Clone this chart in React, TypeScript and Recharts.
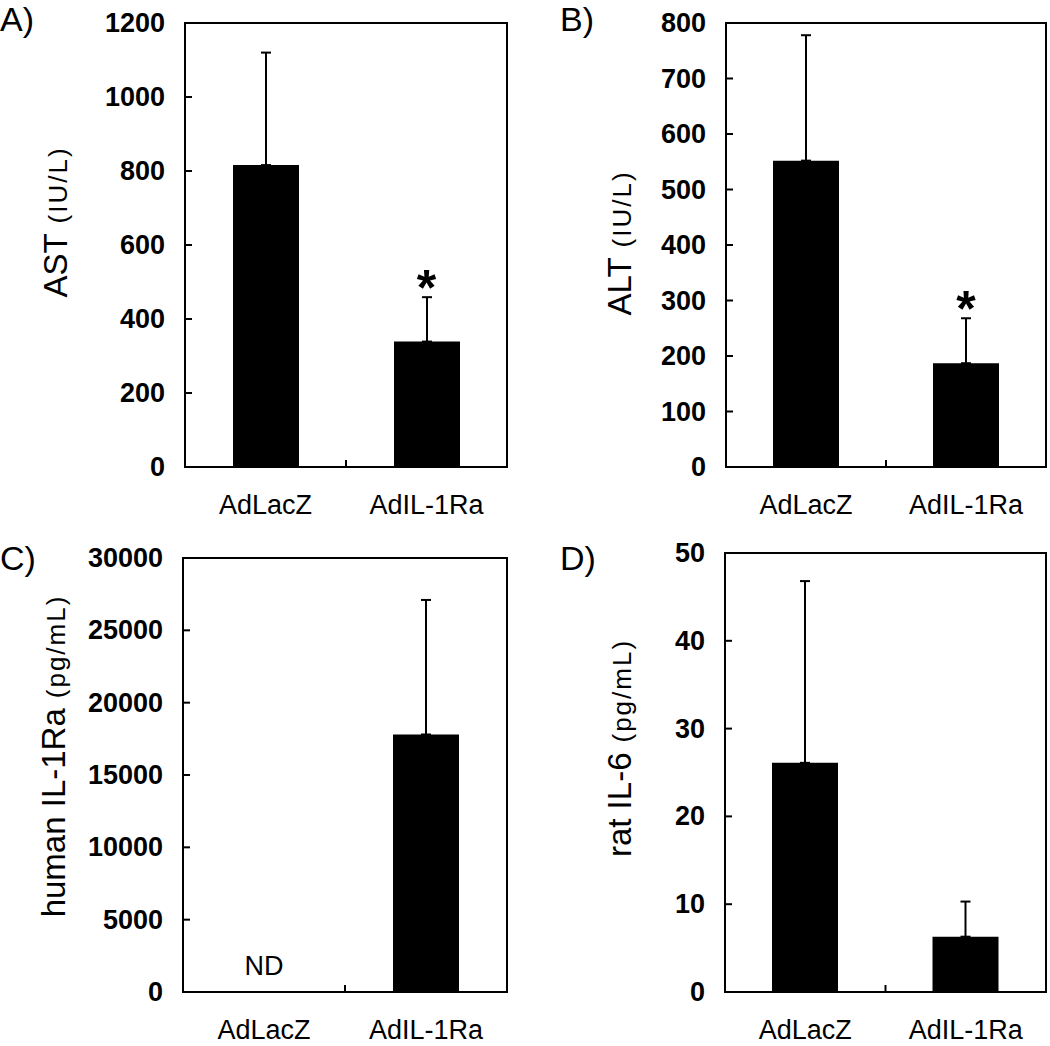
import React from 'react';
import {
  ComposedChart,
  Bar,
  XAxis,
  YAxis,
  ErrorBar,
  ReferenceArea,
  Scatter,
} from 'recharts';

const FONT = '"Liberation Sans", Arial, Helvetica, sans-serif';

// ---------- data ----------
const groups = ['AdLacZ', 'AdIL-1Ra'];

// A) AST (IU/L)
const astMean = [816, 339];
const astSD = [304, 120];
const astSig = [false, true];
const astTicks = [0, 200, 400, 600, 800, 1000, 1200];

// B) ALT (IU/L)
const altMean = [552, 187];
const altSD = [226, 81];
const altSig = [false, true];
const altTicks = [0, 100, 200, 300, 400, 500, 600, 700, 800];

// C) human IL-1Ra (pg/mL)
const il1raMean = [0, 17800];
const il1raSD = [0, 9300];
const il1raNotes = ['ND', ''];
const il1raTicks = [0, 5000, 10000, 15000, 20000, 25000, 30000];

// D) rat IL-6 (pg/mL)
const il6Mean = [26.1, 6.3];
const il6SD = [20.7, 4.0];
const il6Ticks = [0, 10, 20, 30, 40, 50];

type Row = {
  group: string;
  mean: number;
  err: [number, number];
  star: number | null;
  note: string;
  noteAt: number | null;
};

function buildRows(mean: number[], sd: number[], sig?: boolean[], notes?: string[]): Row[] {
  return groups.map((g, i) => ({
    group: g,
    mean: mean[i],
    err: [0, sd[i]],
    star: sig && sig[i] ? mean[i] + sd[i] : null,
    note: notes ? notes[i] : '',
    noteAt: notes && notes[i] ? mean[i] : null,
  }));
}

// ---------- tick renderers ----------
const Y_MARGIN = 20;
const X_MARGIN = 28;

const YTick = (props: any) => {
  const { x, y, payload } = props;
  return (
    <g>
      <line x1={x + Y_MARGIN} x2={x + Y_MARGIN + 7} y1={y} y2={y} stroke="#000" strokeWidth={2} />
      <text
        x={x}
        y={y}
        textAnchor="end"
        dominantBaseline="central"
        fontFamily={FONT}
        fontWeight="bold"
        fontSize={27}
        fill="#000"
      >
        {payload.value}
      </text>
    </g>
  );
};

const CatTick = (props: any) => {
  const { x, y, payload, index } = props;
  const off = payload && typeof payload.offset === 'number' ? payload.offset : 0;
  const axisY = y - X_MARGIN;
  return (
    <g>
      {index === 0 && off > 0 ? (
        <line x1={x + off} x2={x + off} y1={axisY} y2={axisY - 7} stroke="#000" strokeWidth={2} />
      ) : null}
      <text x={x} y={y} dy="0.72em" textAnchor="middle" fontFamily={FONT} fontSize={27} fill="#000">
        {payload.value}
      </text>
    </g>
  );
};

const StarShape = (props: any) => {
  const { cx, cy, payload } = props;
  if (!payload || payload.star == null || cx == null || cy == null) return <g />;
  return (
    <text x={cx} y={cy + 8} textAnchor="middle" fontFamily={FONT} fontWeight="bold" fontSize={50} fill="#000">
      *
    </text>
  );
};

const NoteShape = (props: any) => {
  const { cx, cy, payload } = props;
  if (!payload || !payload.note || cx == null || cy == null) return <g />;
  return (
    <text x={cx} y={cy - 17} textAnchor="middle" fontFamily={FONT} fontSize={27} fill="#000">
      {payload.note}
    </text>
  );
};

// ---------- panel ----------
type PanelProps = {
  letter: string;
  letterX: number;
  letterY: number;
  rows: Row[];
  ticks: number[];
  mainLabel: string;
  unitLabel: string;
  unitSize: number;
  unitSpacing: number;
  labelX: number;
  labelCY: number;
  left: number;
  top: number;
  width: number;
  height: number;
  plotLeft: number;
  plotRight: number;
  plotTop: number;
  plotBottom: number;
};

const X_AXIS_H = 50;

function Panel(p: PanelProps) {
  const max = p.ticks[p.ticks.length - 1];
  const labelContent = () => (
    <g>
      <text x={p.letterX} y={p.letterY} fontFamily={FONT} fontSize={34} fill="#000">
        {p.letter}
      </text>
      <text
        transform={`translate(${p.labelX},${p.labelCY}) rotate(-90)`}
        textAnchor="middle"
        fontFamily={FONT}
        fill="#000"
      >
        <tspan fontSize={33}>{p.mainLabel}</tspan>
        <tspan fontSize={p.unitSize} letterSpacing={p.unitSpacing} dx={10}>
          {p.unitLabel}
        </tspan>
      </text>
    </g>
  );
  return (
    <div style={{ position: 'absolute', left: p.left, top: p.top, width: p.width, height: p.height }}>
      <ComposedChart
        width={p.width}
        height={p.height}
        data={p.rows}
        barSize={66}
        margin={{
          top: p.plotTop,
          right: p.width - p.plotRight,
          bottom: p.height - p.plotBottom - X_AXIS_H,
          left: 0,
        }}
      >
        <XAxis
          xAxisId="cat"
          dataKey="group"
          type="category"
          height={X_AXIS_H}
          axisLine={{ stroke: '#000', strokeWidth: 2 }}
          tickLine={false}
          tickSize={0}
          tickMargin={X_MARGIN}
          interval={0}
          tick={<CatTick />}
        />
        <YAxis
          type="number"
          domain={[0, max]}
          ticks={p.ticks}
          interval={0}
          width={p.plotLeft}
          axisLine={{ stroke: '#000', strokeWidth: 2 }}
          tickLine={false}
          tickSize={0}
          tickMargin={Y_MARGIN}
          tick={<YTick />}
          label={{ content: labelContent }}
        />
        <ReferenceArea
          xAxisId="cat"
          y1={0}
          y2={max}
          fill="none"
          fillOpacity={0}
          stroke="#000"
          strokeWidth={2}
          ifOverflow="visible"
        />
        <Bar xAxisId="cat" dataKey="mean" fill="#000" isAnimationActive={false}>
          <ErrorBar dataKey="err" direction="y" width={5} stroke="#000" strokeWidth={2} isAnimationActive={false} />
        </Bar>
        <Scatter xAxisId="cat" dataKey="star" shape={StarShape} isAnimationActive={false} />
        <Scatter xAxisId="cat" dataKey="noteAt" shape={NoteShape} isAnimationActive={false} />
      </ComposedChart>
    </div>
  );
}

export default function App() {
  return (
    <div style={{ position: 'absolute', left: 0, top: 0, width: 1050, height: 1046, background: '#fff', overflow: 'hidden' }}>
      <Panel
        letter="A)"
        letterX={0}
        letterY={31}
        rows={buildRows(astMean, astSD, astSig)}
        ticks={astTicks}
        mainLabel="AST"
        unitLabel="(IU/L)"
        unitSize={26}
        unitSpacing={2}
        labelX={67}
        labelCY={222}
        left={0}
        top={0}
        width={525}
        height={520}
        plotLeft={185}
        plotRight={507}
        plotTop={23}
        plotBottom={467}
      />
      <Panel
        letter="B)"
        letterX={35}
        letterY={31}
        rows={buildRows(altMean, altSD, altSig)}
        ticks={altTicks}
        mainLabel="ALT"
        unitLabel="(IU/L)"
        unitSize={26}
        unitSpacing={2}
        labelX={106}
        labelCY={243}
        left={525}
        top={0}
        width={525}
        height={520}
        plotLeft={201}
        plotRight={521}
        plotTop={23}
        plotBottom={467}
      />
      <Panel
        letter="C)"
        letterX={0}
        letterY={50}
        rows={buildRows(il1raMean, il1raSD, undefined, il1raNotes)}
        ticks={il1raTicks}
        mainLabel="human IL-1Ra"
        unitLabel="(pg/mL)"
        unitSize={26}
        unitSpacing={2}
        labelX={65}
        labelCY={236}
        left={0}
        top={520}
        width={525}
        height={526}
        plotLeft={183}
        plotRight={507}
        plotTop={38}
        plotBottom={472}
      />
      <Panel
        letter="D)"
        letterX={35}
        letterY={50}
        rows={buildRows(il6Mean, il6SD)}
        ticks={il6Ticks}
        mainLabel="rat IL-6"
        unitLabel="(pg/mL)"
        unitSize={26}
        unitSpacing={2}
        labelX={106}
        labelCY={228}
        left={525}
        top={520}
        width={525}
        height={526}
        plotLeft={200}
        plotRight={521}
        plotTop={33}
        plotBottom={472}
      />
    </div>
  );
}
